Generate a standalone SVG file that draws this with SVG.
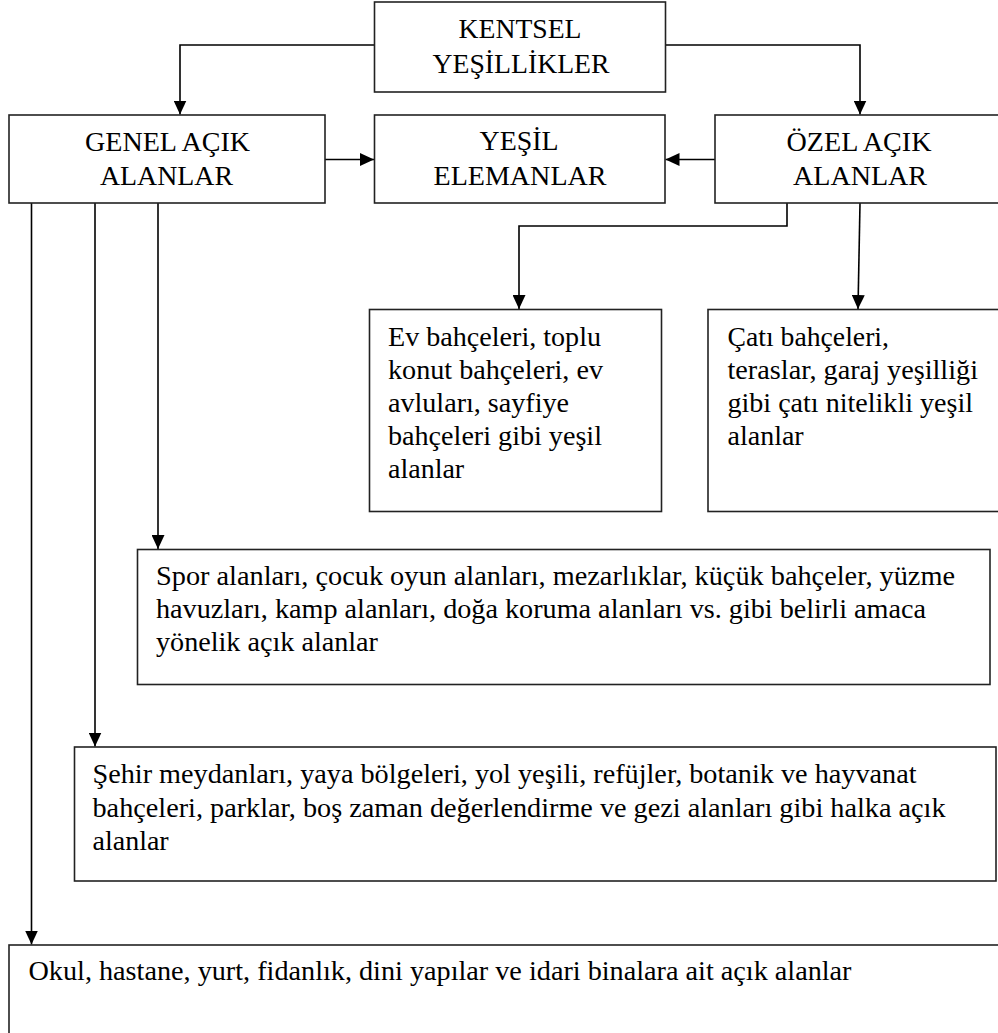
<svg xmlns="http://www.w3.org/2000/svg" width="998" height="1033" viewBox="0 0 998 1033">
<style>
.box{fill:#fff;stroke:#222;stroke-width:1.6}
.c{fill:none;stroke:#000;stroke-width:1.6}
.m{text-anchor:middle}
</style>
<defs>
<marker id="ah" markerUnits="userSpaceOnUse" markerWidth="14" markerHeight="13" refX="14" refY="6.5" orient="auto">
<path d="M0,0 L14,6.5 L0,13 z" fill="#000"/>
</marker>
</defs>
<rect width="998" height="1033" fill="#fff"/>
<g id="connectors">
<path class="c" d="M374.5,45 H180 V114.5" marker-end="url(#ah)"/>
<path class="c" d="M665.5,45 H860 V114.5" marker-end="url(#ah)"/>
<path class="c" d="M325,159.5 H374" marker-end="url(#ah)"/>
<path class="c" d="M715,159.5 H665.5" marker-end="url(#ah)"/>
<path class="c" d="M787,203 V226 H519 V309" marker-end="url(#ah)"/>
<path class="c" d="M860,203 L858,309" marker-end="url(#ah)"/>
<path class="c" d="M31.5,203 V944.5" marker-end="url(#ah)"/>
<path class="c" d="M95,203 V746.5" marker-end="url(#ah)"/>
<path class="c" d="M158,203 V549" marker-end="url(#ah)"/>
</g>
<g font-family="'Liberation Serif', 'DejaVu Serif', serif" font-size="28" fill="#000">
<g id="kentsel">
<rect class="box" x="374.5" y="2" width="291" height="90"/>
<text class="m" x="520" y="37.5" textLength="123" lengthAdjust="spacingAndGlyphs">KENTSEL</text>
<text class="m" x="521" y="72.5" textLength="177" lengthAdjust="spacingAndGlyphs">YEŞİLLİKLER</text>
</g>
<g id="genel">
<rect class="box" x="9" y="115" width="316" height="88"/>
<text class="m" x="167.5" y="151" textLength="165" lengthAdjust="spacingAndGlyphs">GENEL AÇIK</text>
<text class="m" x="166.5" y="185" textLength="133" lengthAdjust="spacingAndGlyphs">ALANLAR</text>
</g>
<g id="yesil">
<rect class="box" x="374.5" y="115" width="290.5" height="88"/>
<text class="m" x="519" y="150" textLength="79" lengthAdjust="spacingAndGlyphs">YEŞİL</text>
<text class="m" x="520" y="184.5" textLength="173" lengthAdjust="spacingAndGlyphs">ELEMANLAR</text>
</g>
<g id="ozel">
<rect class="box" x="715" y="115" width="290" height="88"/>
<text class="m" x="859" y="151" textLength="145" lengthAdjust="spacingAndGlyphs">ÖZEL AÇIK</text>
<text class="m" x="860" y="185" textLength="134" lengthAdjust="spacingAndGlyphs">ALANLAR</text>
</g>
<g id="ev">
<rect class="box" x="369.5" y="309.5" width="292" height="202"/>
<text x="388" y="345.5" textLength="213" lengthAdjust="spacingAndGlyphs">Ev bahçeleri, toplu</text>
<text x="388" y="378.5" textLength="215" lengthAdjust="spacingAndGlyphs">konut bahçeleri, ev</text>
<text x="388" y="411.5" textLength="181" lengthAdjust="spacingAndGlyphs">avluları, sayfiye</text>
<text x="388" y="444.5" textLength="214" lengthAdjust="spacingAndGlyphs">bahçeleri gibi yeşil</text>
<text x="388" y="477.5">alanlar</text>
</g>
<g id="cati">
<rect class="box" x="708" y="309.5" width="295" height="202"/>
<text x="727.5" y="345.5" textLength="161.5" lengthAdjust="spacingAndGlyphs">Çatı bahçeleri,</text>
<text x="727.5" y="378.5" textLength="250.5" lengthAdjust="spacingAndGlyphs">teraslar, garaj yeşilliği</text>
<text x="727.5" y="411.5" textLength="245.5" lengthAdjust="spacingAndGlyphs">gibi çatı nitelikli yeşil</text>
<text x="727.5" y="444.5">alanlar</text>
</g>
<g id="spor">
<rect class="box" x="137.5" y="549.5" width="852.5" height="135"/>
<text x="156" y="585" textLength="799" lengthAdjust="spacingAndGlyphs">Spor alanları, çocuk oyun alanları, mezarlıklar, küçük bahçeler, yüzme</text>
<text x="156" y="618" textLength="770" lengthAdjust="spacingAndGlyphs">havuzları, kamp alanları, doğa koruma alanları vs. gibi belirli amaca</text>
<text x="156" y="651" textLength="222" lengthAdjust="spacingAndGlyphs">yönelik açık alanlar</text>
</g>
<g id="sehir">
<rect class="box" x="74.5" y="747" width="921.5" height="134"/>
<text x="92.5" y="783" textLength="824" lengthAdjust="spacingAndGlyphs">Şehir meydanları, yaya bölgeleri, yol yeşili, refüjler, botanik ve hayvanat</text>
<text x="92.5" y="816.5" textLength="853" lengthAdjust="spacingAndGlyphs">bahçeleri, parklar, boş zaman değerlendirme ve gezi alanları gibi halka açık</text>
<text x="92.5" y="850">alanlar</text>
</g>
<g id="okul">
<rect class="box" x="9" y="945" width="1000" height="100"/>
<text x="28.5" y="980" textLength="823" lengthAdjust="spacingAndGlyphs">Okul, hastane, yurt, fidanlık, dini yapılar ve idari binalara ait açık alanlar</text>
</g>
</g>
</svg>
